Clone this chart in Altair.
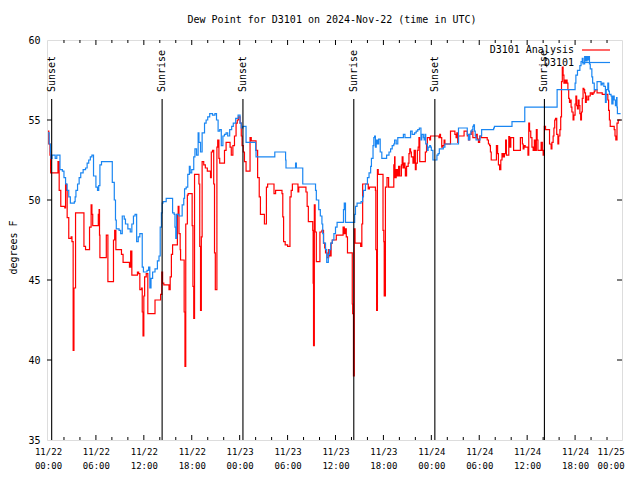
import json
import altair as alt
import pandas as pd

# ---------------- data (hours after 2024-11-22 00:00 UTC, dew point degF) -------------
ANALYSIS = [  # red series  "D3101 Analysis"
    (0.0, 54.3), (0.1, 53.5), (0.25, 52.8), (0.33, 51.7), (1.25, 52.4), (1.4, 50.6),
    (1.6, 49.6), (2.1, 49.5), (2.2, 51.0), (2.3, 50.6), (2.4, 48.9), (2.6, 47.6),
    (2.9, 47.7), (3.0, 47.4), (3.15, 40.6), (3.25, 44.5), (3.45, 49.2), (4.5, 47.1),
    (4.7, 46.9), (5.2, 48.3), (5.4, 49.7), (5.5, 49.1), (5.6, 48.4), (6.3, 49.1),
    (6.4, 49.4), (6.45, 47.8), (6.5, 46.4), (7.3, 47.8), (7.5, 44.9), (8.2, 47.5),
    (8.35, 48.1), (8.5, 46.9), (9.2, 46.6), (9.4, 46.1), (10.2, 45.8), (10.35, 46.8),
    (10.5, 45.3), (11.2, 45.5), (11.35, 45.4), (11.5, 44.4), (11.7, 44.5), (11.8, 43.0),
    (11.9, 41.5), (12.0, 44.0), (12.1, 45.2), (12.3, 45.4), (12.5, 42.9), (13.4, 43.75),
    (14.1, 44.1), (14.25, 45.5), (14.35, 44.8), (14.5, 44.7), (15.15, 44.4), (15.3, 45.2),
    (15.45, 46.6), (15.6, 47.2), (16.2, 49.1), (16.3, 49.6), (16.4, 47.9), (16.55, 46.9),
    (16.6, 46.25), (17.05, 43.0), (17.15, 39.6), (17.25, 48.5), (17.45, 50.3), (17.55, 50.4),
    (18.05, 48.4), (18.15, 44.6), (18.25, 42.6), (18.35, 51.6), (18.9, 51.0), (19.0, 47.1),
    (19.1, 43.1), (19.2, 47.7), (19.3, 52.4), (19.5, 52.2), (19.7, 52.0), (19.95, 51.8),
    (20.35, 51.4), (20.45, 53.0), (20.6, 53.1), (20.75, 51.0), (20.85, 46.7), (20.95, 44.4),
    (21.15, 53.3), (21.25, 53.75), (21.4, 52.6), (21.5, 52.3), (22.1, 53.1), (22.3, 53.6),
    (22.8, 53.3), (22.95, 52.8), (23.15, 53.4), (23.35, 54.0), (23.55, 54.8), (23.7, 55.0),
    (23.85, 55.2), (24.05, 54.8), (24.2, 54.0), (24.3, 53.4), (24.45, 53.0), (24.6, 52.4),
    (24.8, 51.8), (25.3, 53.9), (25.45, 53.7), (26.05, 53.1), (26.25, 51.4), (26.45, 50.2),
    (26.6, 49.1), (27.1, 48.5), (27.35, 50.8), (27.5, 51.0), (28.3, 50.4), (28.5, 50.6),
    (29.3, 50.4), (29.4, 48.95), (29.5, 47.4), (29.7, 47.2), (30.0, 47.1), (30.3, 50.2),
    (30.45, 50.6), (30.6, 51.0), (31.3, 50.5), (31.4, 50.8), (32.3, 50.5), (32.45, 49.6),
    (32.6, 48.65), (33.15, 48.1), (33.2, 44.8), (33.25, 40.9), (33.35, 49.7), (33.45, 48.0),
    (33.6, 46.15), (34.05, 48.0), (34.3, 48.1), (34.5, 47.3), (34.65, 47.0), (34.75, 46.7),
    (34.95, 46.4), (35.15, 46.9), (35.3, 46.5), (35.45, 47.3), (35.6, 47.5), (36.1, 47.8),
    (36.95, 48.3), (37.1, 47.9), (37.25, 48.2), (37.35, 47.7), (37.5, 46.7), (38.1, 43.5),
    (38.15, 42.9), (38.25, 39.0), (38.35, 48.2), (38.45, 47.3), (39.15, 47.1), (39.3, 48.5),
    (39.4, 51.0), (40.1, 50.7), (40.25, 50.8), (41.0, 50.6), (41.05, 46.9), (41.15, 43.1),
    (41.25, 51.9), (41.35, 51.6), (41.95, 48.1), (42.05, 47.4), (42.1, 44.0), (42.25, 50.8),
    (42.45, 51.4), (42.65, 50.8), (43.3, 52.2), (43.4, 52.7), (43.45, 51.4), (43.6, 51.9),
    (43.75, 51.5), (43.9, 52.1), (44.05, 51.5), (44.25, 52.2), (44.35, 52.7), (44.45, 52.0),
    (44.6, 52.3), (44.7, 52.0), (44.75, 51.5), (44.9, 52.1), (45.1, 52.3), (45.2, 52.9),
    (45.3, 53.2), (45.4, 53.0), (45.5, 52.7), (45.7, 52.3), (45.85, 53.1), (46.0, 51.9),
    (46.1, 52.3), (46.25, 53.1), (46.35, 53.3), (46.45, 53.9), (46.55, 52.4), (47.25, 53.0),
    (47.4, 53.5), (47.5, 53.9), (47.8, 53.75), (47.9, 54.0), (48.95, 53.9), (49.05, 54.1),
    (49.15, 53.9), (49.3, 53.3), (49.45, 53.4), (49.6, 53.75), (49.7, 53.5), (50.4, 54.3),
    (50.95, 54.1), (51.1, 53.9), (51.2, 54.2), (51.3, 53.6), (51.4, 54.0), (52.1, 54.3),
    (52.5, 54.0), (52.65, 53.75), (52.8, 54.1), (53.0, 54.3), (53.2, 53.9), (53.6, 54.1),
    (53.75, 53.8), (53.9, 53.6), (54.05, 54.0), (54.25, 53.9), (55.0, 53.75), (55.15, 53.5),
    (55.3, 53.4), (55.4, 53.0), (55.5, 52.5), (56.15, 53.4), (56.3, 52.9), (56.4, 52.2),
    (56.55, 51.9), (56.7, 52.5), (56.85, 52.9), (57.0, 52.7), (57.15, 52.9), (57.3, 53.75),
    (57.4, 52.8), (57.7, 53.96), (57.8, 53.3), (57.95, 53.9), (58.3, 53.1), (59.15, 53.9),
    (59.4, 53.5), (59.5, 53.2), (59.6, 53.4), (59.75, 53.3), (60.1, 52.8), (60.2, 54.8),
    (60.3, 54.3), (60.45, 53.9), (60.6, 53.3), (60.75, 53.1), (60.9, 53.75), (61.05, 53.1),
    (61.15, 54.4), (61.25, 53.75), (61.35, 53.1), (61.75, 53.6), (61.9, 53.1), (62.0, 52.8),
    (62.15, 54.6), (62.3, 54.4), (62.8, 53.5), (63.0, 53.2), (63.1, 53.6), (63.25, 54.0),
    (63.35, 54.5), (63.45, 55.0), (63.55, 55.1), (63.7, 54.1), (63.85, 53.5), (63.95, 54.0),
    (64.1, 54.4), (64.2, 55.2), (64.3, 57.4), (64.4, 58.3), (64.5, 57.8), (64.6, 57.3),
    (64.7, 57.5), (64.8, 57.3), (64.9, 57.5), (65.0, 57.3), (65.1, 56.9), (65.2, 56.35),
    (65.3, 56.1), (65.4, 56.25), (65.5, 55.8), (65.6, 55.5), (65.75, 55.0), (65.85, 55.3),
    (66.0, 56.0), (66.1, 56.5), (66.2, 55.9), (66.3, 55.7), (66.4, 56.25), (66.5, 55.9),
    (66.6, 55.4), (66.7, 55.0), (66.8, 55.5), (66.9, 56.35), (67.0, 56.98), (67.1, 56.9),
    (67.2, 56.7), (67.3, 56.1), (67.4, 56.5), (67.5, 56.25), (67.7, 56.5), (67.9, 56.7),
    (68.1, 56.6), (68.25, 56.7), (68.4, 56.8), (68.5, 56.9), (68.75, 56.7), (69.4, 56.6),
    (70.1, 56.25), (70.2, 55.6), (70.3, 55.0), (70.4, 54.6), (70.9, 54.4), (71.0, 54.0),
    (71.1, 53.75), (71.25, 54.8), (71.4, 55.0), (71.7, 55.0),
]

OBSERVED = [  # blue series "D3101"
    (0.0, 54.2), (0.15, 53.5), (0.3, 53.0), (0.35, 52.6), (0.5, 52.8), (0.9, 52.6),
    (1.1, 52.8), (1.5, 51.9), (1.8, 51.8), (2.0, 51.4), (2.2, 51.0), (2.4, 50.6),
    (2.6, 50.2), (2.8, 49.8), (3.3, 49.9), (3.4, 50.2), (3.5, 50.6), (3.7, 51.0),
    (3.9, 51.4), (4.1, 51.7), (4.4, 51.9), (4.7, 52.0), (4.9, 52.3), (5.1, 52.5),
    (5.3, 52.7), (5.5, 52.8), (5.7, 51.5), (6.0, 50.8), (6.2, 50.6), (6.35, 50.9),
    (6.5, 52.2), (6.7, 52.4), (8.05, 51.1), (8.3, 50.0), (8.45, 48.75), (8.55, 48.2),
    (8.9, 48.1), (9.1, 47.9), (9.3, 49.0), (9.55, 48.8), (9.7, 48.5), (10.0, 48.2),
    (10.3, 48.0), (10.5, 48.5), (10.7, 49.0), (10.9, 49.1), (11.1, 47.4), (11.3, 47.7),
    (11.5, 47.9), (11.8, 45.8), (11.95, 45.5), (12.4, 45.6), (12.6, 45.8), (12.75, 44.5),
    (12.9, 45.1), (13.1, 45.5), (13.4, 45.7), (13.7, 46.2), (13.9, 46.5), (14.05, 48.3),
    (14.2, 49.2), (14.3, 49.8), (14.4, 49.9), (14.8, 50.1), (15.6, 49.2), (15.8, 49.1),
    (15.9, 48.3), (16.0, 47.6), (16.1, 49.1), (16.4, 49.0), (16.8, 49.7), (17.0, 50.1),
    (17.1, 50.7), (17.3, 50.8), (17.5, 51.6), (17.7, 52.1), (17.8, 51.7), (18.0, 51.9),
    (18.25, 52.7), (18.4, 53.2), (18.6, 52.8), (18.8, 54.2), (18.9, 53.6), (19.1, 53.0),
    (19.3, 54.2), (19.6, 54.8), (19.8, 55.0), (20.0, 55.2), (20.25, 55.4), (20.6, 55.3),
    (20.9, 55.4), (21.1, 55.0), (21.3, 54.3), (21.5, 54.4), (21.7, 53.4), (21.9, 54.0),
    (22.1, 54.1), (22.3, 54.2), (22.5, 54.0), (22.75, 54.4), (23.0, 54.6), (23.2, 54.8),
    (23.5, 55.1), (23.8, 55.3), (24.05, 54.8), (24.2, 54.5), (24.4, 54.6), (24.8, 53.6),
    (26.0, 53.1), (26.05, 52.7), (28.4, 53.0), (29.75, 52.5), (29.8, 52.0), (31.0, 52.3),
    (31.1, 52.0), (31.9, 51.0), (33.5, 50.6), (33.6, 50.0), (33.9, 49.4), (34.1, 49.0),
    (34.3, 48.5), (34.4, 47.9), (34.5, 47.3), (34.75, 46.9), (34.9, 46.1), (35.1, 46.6),
    (35.25, 46.9), (35.4, 47.3), (35.6, 47.5), (35.8, 47.9), (36.0, 48.3), (36.2, 48.6),
    (37.0, 49.4), (37.1, 49.8), (37.25, 48.6), (38.4, 49.1), (38.5, 49.6), (38.7, 49.8),
    (39.2, 49.9), (39.4, 50.2), (39.5, 50.6), (39.75, 51.0), (40.0, 51.4), (40.2, 51.7),
    (40.4, 52.1), (40.5, 52.6), (40.7, 53.4), (40.8, 53.9), (40.9, 54.0), (41.0, 53.3),
    (41.1, 53.75), (41.25, 53.5), (41.4, 53.8), (41.6, 53.0), (41.8, 52.6), (42.4, 52.8),
    (42.7, 53.0), (42.9, 53.2), (43.1, 53.4), (43.3, 53.5), (43.4, 53.75), (43.6, 53.5),
    (43.8, 53.9), (44.5, 54.1), (44.7, 53.9), (45.4, 54.3), (45.6, 54.1), (45.9, 54.2),
    (46.1, 54.3), (46.3, 54.4), (46.5, 54.5), (46.7, 53.75), (46.8, 54.1), (47.0, 53.9),
    (47.1, 53.75), (47.2, 54.1), (47.3, 53.5), (47.5, 53.1), (47.6, 53.3), (47.8, 53.4),
    (47.9, 53.3), (48.0, 53.1), (48.2, 52.5), (48.7, 52.8), (48.85, 52.9), (49.0, 53.2),
    (49.5, 53.3), (49.7, 53.5), (51.4, 54.5), (52.5, 54.1), (52.65, 53.75), (52.8, 54.1),
    (52.95, 54.3), (53.1, 54.4), (53.2, 54.6), (53.3, 54.7), (53.4, 54.3), (53.5, 54.0),
    (53.6, 53.75), (54.1, 54.0), (54.3, 54.4), (55.8, 54.5), (55.9, 54.6), (58.1, 54.9),
    (59.7, 55.8), (63.75, 56.9), (66.0, 57.3), (66.1, 57.8), (66.3, 58.1), (66.6, 58.4),
    (66.75, 58.65), (66.9, 58.85), (67.0, 58.5), (67.2, 58.96), (67.35, 58.7), (67.5, 58.96),
    (67.6, 58.75), (67.7, 58.96), (67.8, 58.5), (67.9, 58.2), (68.1, 57.7), (68.2, 57.3),
    (68.4, 56.9), (68.75, 57.4), (69.25, 57.2), (69.4, 57.3), (69.6, 57.1), (69.8, 56.1),
    (69.9, 56.9), (70.1, 57.3), (70.2, 56.8), (70.3, 56.6), (70.5, 56.5), (70.6, 56.0),
    (70.75, 56.5), (70.9, 56.25), (71.05, 55.9), (71.2, 56.4), (71.25, 55.8), (71.3, 55.4),
    (71.7, 55.4),
]

SUN_HOURS = [0.46, 14.29, 24.41, 38.29, 48.44, 62.16]
SUN_LABELS = ["Sunset", "Sunrise", "Sunset", "Sunrise", "Sunset", "Sunrise"]

TICK_DAYS = ["11/22", "11/22", "11/22", "11/22", "11/23", "11/23", "11/23",
             "11/23", "11/24", "11/24", "11/24", "11/24", "11/25"]
TICK_TIMES = ["00:00", "06:00", "12:00", "18:00", "00:00", "06:00", "12:00",
              "18:00", "00:00", "06:00", "12:00", "18:00", "00:00"]
Y_TICKS = [35, 40, 45, 50, 55, 60]

SERIES_NAMES = ["D3101 Analysis", "D3101"]
SERIES_COLORS = ["#ff0000", "#1a86f2"]

TITLE = "Dew Point for D3101 on 2024-Nov-22 (time in UTC)"
FONT = "DejaVu Sans Mono"

# ---------------- chart ----------------
W, H = 575, 400
# last label sits pulled in from the right edge, as in the original
x_label_pos = [0, 6, 12, 18, 24, 30, 36, 42, 48, 54, 60, 66, 70.45]
label_expr = (
    f"[{json.dumps(TICK_DAYS)}[round(datum.value/6)], "
    f"{json.dumps(TICK_TIMES)}[round(datum.value/6)]]"
)

x_enc = alt.X(
    "h:Q",
    scale=alt.Scale(domain=[-0.125, 71.875], nice=False, zero=False),
    axis=alt.Axis(values=x_label_pos, labelExpr=label_expr, tickSize=0, domain=False,
                  grid=False, title=None, labelFont=FONT, labelFontSize=9,
                  labelColor="black", labelPadding=7, labelLineHeight=14,
                  labelFlush=False, labelOverlap=False),
)
y_enc = alt.Y(
    "v:Q",
    scale=alt.Scale(domain=[35, 60], nice=False, zero=False),
    axis=alt.Axis(values=Y_TICKS, tickSize=0, domain=False, grid=False,
                  labelFont=FONT, labelFontSize=10, labelColor="black", labelPadding=7,
                  title="degrees F", titleFont=FONT, titleFontSize=10,
                  titleFontWeight="normal", titleColor="black", titleX=-34, titleY=207,
                  titleAngle=270, titleAlign="center", titleBaseline="middle"),
)

red_df = pd.DataFrame(ANALYSIS, columns=["h", "v"])
blue_df = pd.DataFrame(OBSERVED, columns=["h", "v"])

red = alt.Chart(red_df).mark_line(interpolate="step-after", color=SERIES_COLORS[0],
                                  strokeWidth=1.2).encode(x=x_enc, y=y_enc)
blue = alt.Chart(blue_df).mark_line(interpolate="step-after", color=SERIES_COLORS[1],
                                    strokeWidth=1.2).encode(x=x_enc, y=y_enc)

sun_df = pd.DataFrame({"h": SUN_HOURS, "label": SUN_LABELS})
sun_rules = alt.Chart(sun_df).mark_rule(color="black", strokeWidth=1.1).encode(
    x=x_enc, y=alt.value(59), y2=alt.value(H))
sun_text = alt.Chart(sun_df).mark_text(angle=270, align="left", baseline="middle",
                                       font=FONT, fontSize=10, color="black").encode(
    x=x_enc, y=alt.value(52), text="label:N")

# inward tick marks on the frame (minor every 2 h, major every 6 h)
minor_df = pd.DataFrame({"h": [h for h in range(2, 72, 2) if h % 6 != 0]})
major_df = pd.DataFrame({"h": list(range(6, 72, 6))})
yt_df = pd.DataFrame({"v": Y_TICKS[1:-1]})

tick_layers = [
    alt.Chart(minor_df).mark_rule(color="black").encode(x=x_enc, y=alt.value(0), y2=alt.value(3)),
    alt.Chart(major_df).mark_rule(color="black").encode(x=x_enc, y=alt.value(0), y2=alt.value(5)),
    alt.Chart(minor_df).mark_rule(color="black").encode(x=x_enc, y=alt.value(H), y2=alt.value(H - 3)),
    alt.Chart(major_df).mark_rule(color="black").encode(x=x_enc, y=alt.value(H), y2=alt.value(H - 5)),
    alt.Chart(yt_df).mark_rule(color="black").encode(y=y_enc, x=alt.value(0), x2=alt.value(5)),
    alt.Chart(yt_df).mark_rule(color="black").encode(y=y_enc, x=alt.value(W - 5), x2=alt.value(W)),
]

legend_layers = []
for i, (name, col) in enumerate(zip(SERIES_NAMES, SERIES_COLORS)):
    ly = 10 + 12.5 * i
    ldf = pd.DataFrame({"t": [name]})
    legend_layers.append(
        alt.Chart(ldf).mark_text(align="right", baseline="middle", font=FONT, fontSize=10,
                                 color="black").encode(text="t:N", x=alt.value(527), y=alt.value(ly)))
    legend_layers.append(
        alt.Chart(ldf).mark_rule(color=col, strokeWidth=1.2).encode(
            x=alt.value(535), x2=alt.value(563), y=alt.value(ly)))

title_layer = alt.Chart(pd.DataFrame({"t": [TITLE]})).mark_text(
    align="center", baseline="middle", font=FONT, fontSize=10, color="black"
).encode(text="t:N", x=alt.value(285), y=alt.value(-20))

chart = alt.layer(
    red, blue, sun_rules, sun_text, *tick_layers, *legend_layers, title_layer
).properties(
    width=W, height=H,
    autosize="none",
    padding={"left": 39, "top": 32, "right": 10, "bottom": 32},
).configure_view(stroke="black", strokeWidth=1).configure(background="white")

chart.save("out.html", embed_options={"renderer": "svg", "actions": False})
